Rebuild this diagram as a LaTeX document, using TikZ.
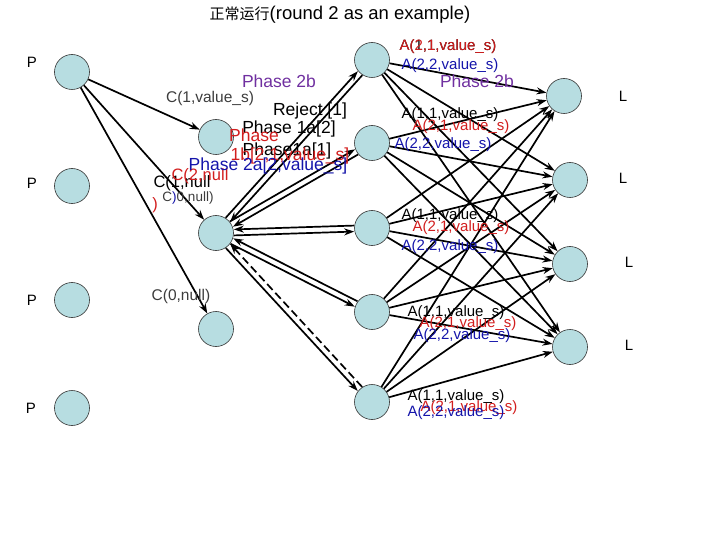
\documentclass[tikz,border=0pt]{standalone}
\usepackage{fontspec}
\setmainfont{Liberation Sans}
\newfontfamily\cjk{Noto Sans CJK SC}
\usetikzlibrary{arrows.meta}
\definecolor{nodefill}{RGB}{183,221,225}
\definecolor{myred}{RGB}{210,30,30}
\definecolor{myblue}{RGB}{20,20,170}
\definecolor{mypurple}{RGB}{112,48,160}
\definecolor{mygray}{RGB}{60,60,60}
\begin{document}
\begin{tikzpicture}[x=1pt,y=-1pt,
  proc/.style={circle, draw=black!80, line width=0.6pt, fill=nodefill, minimum size=35pt, inner sep=0pt},
  arr/.style={-{Stealth[length=10pt,width=7pt]}, line width=1.7pt},
  small/.style={font=\fontsize{15}{17}\selectfont, inner sep=0pt},
  big/.style={font=\fontsize{17.5}{20}\selectfont, inner sep=0pt},
  side/.style={font=\fontsize{15}{17}\selectfont, inner sep=0pt},
  clab/.style={font=\fontsize{15.5}{17}\selectfont, inner sep=0pt, text=mygray}]
\useasboundingbox (0,0) rectangle (720,540);

% title
\node[font=\fontsize{18.5}{20}\selectfont, inner sep=0pt] (title) at (340,15) {{\cjk\fontsize{15}{16}\selectfont 正常运行}(round 2 as an example)};

% column 1
\node[proc] (c1a) at (72,72) {};
\node[proc] (c1b) at (72,186) {};
\node[proc] (c1c) at (72,300) {};
\node[proc] (c1d) at (72,408) {};
% column 2
\node[proc] (c2a) at (216,137) {};
\node[proc] (c2b) at (216,233) {};
\node[proc] (c2c) at (216,329) {};
% column 3
\node[proc] (c3a) at (372,60) {};
\node[proc] (c3b) at (372,143) {};
\node[proc] (c3c) at (372,228) {};
\node[proc] (c3d) at (372,312) {};
\node[proc] (c3e) at (372,402) {};
% column 4
\node[proc] (c4a) at (564,96) {};
\node[proc] (c4b) at (570,180) {};
\node[proc] (c4c) at (570,264) {};
\node[proc] (c4d) at (570,347) {};

% side labels
\node[side] (p1) at (32,62) {P};
\node[side] (p2) at (32,183) {P};
\node[side] (p3) at (32,300) {P};
\node[side] (p4) at (31,408) {P};
\node[side] (l1) at (623,96) {L};
\node[side] (l2) at (623,178) {L};
\node[side] (l3) at (629,262) {L};
\node[side] (l4) at (629,345) {L};

% column 1 -> column 2
\draw[arr] (c1a) -- (c2a);
\draw[arr] (c1a) -- (c2b);
\draw[arr] (c1a) -- (c2c);

% column 2 <-> column 3
\draw[arr, transform canvas={xshift=-2.2pt,yshift=2pt}] (c2b) -- (c3a);
\draw[arr, transform canvas={xshift=2.2pt,yshift=-2pt}] (c3a) -- (c2b);
\draw[arr, transform canvas={xshift=-1.5pt,yshift=2.6pt}] (c2b) -- (c3b);
\draw[arr, transform canvas={xshift=1.5pt,yshift=-2.6pt}] (c3b) -- (c2b);
\draw[arr, transform canvas={yshift=3pt}] (c3c) -- (c2b);
\draw[arr, transform canvas={yshift=-3pt}] (c2b) -- (c3c);
\draw[arr, transform canvas={xshift=1.3pt,yshift=2.7pt}] (c3d) -- (c2b);
\draw[arr, transform canvas={xshift=-1.3pt,yshift=-2.7pt}] (c2b) -- (c3d);
\draw[arr, dash pattern=on 8pt off 4pt, transform canvas={xshift=2.2pt,yshift=2pt}] (c3e) -- (c2b);
\draw[arr, transform canvas={xshift=-2.2pt,yshift=-2pt}] (c2b) -- (c3e);

% column 3 -> column 4
\foreach \s in {c3a,c3b,c3c,c3d,c3e}{
  \foreach \t in {c4a,c4b,c4c,c4d}{
    \draw[arr] (\s) -- (\t);
  }
}

% labels column 1 -> 2
\node[clab] (lc1v) at (210,98) {C(1,value\_s)};
\node[clab] (lc0n) at (181,296) {C(0,null)};
\node[font=\fontsize{16.5}{18}\selectfont, inner sep=0pt] (lc1n) at (182,183) {C(1,null};
\node[font=\fontsize{16.5}{18}\selectfont, inner sep=0pt, text=myred] (lc2n) at (200,176) {C(2,null};
\node[font=\fontsize{16.5}{18}\selectfont, inner sep=0pt, text=myred] (lrp) at (155,205) {)};
\node[font=\fontsize{13.5}{15}\selectfont, inner sep=0pt, text=mygray] (lc0b) at (188,198) {C{\color{myblue})}0,null)};

% labels column 2 -> 3
\node[big, text=mypurple] (ph2b) at (279,81) {Phase 2b};
\node[big] (rej) at (310,111) {Reject [1]};
\node[big] (ph1a2) at (289,129) {Phase 1a[2]};
\node[big] (ph1a1) at (287,151) {Phase1a[1]};
\node[big, text=myred] (ph1b) at (254,135) {Phase};
\node[big, text=myred] (ph1bb) at (290,156) {1b[2,1,value\_s]};
\node[big, text=myblue] (ph2a) at (268,166) {Phase 2a[2,value\_s]};

% labels column 3 -> 4
\node[small] (a1k) at (448,47) {A(1,1,value\_s)};
\node[small, text=myred] (a1r) at (448,47) {A(2,1,value\_s)};
\node[small, text=myblue] (a1b) at (450,66) {A(2,2,value\_s)};
\node[big, text=mypurple] (ph2br) at (477,81) {Phase 2b};

\node[small] (a2k) at (450,115) {A(1,1,value\_s)};
\node[small, text=myred] (a2r) at (461,127) {A(2,1,value\_s)};
\node[small, text=myblue] (a2b) at (443,145) {A(2,2,value\_s)};

\node[small] (a3k) at (450,216) {A(1,1,value\_s)};
\node[small, text=myred] (a3r) at (461,228) {A(2,1,value\_s)};
\node[small, text=myblue] (a3b) at (450,247) {A(2,2,value\_s)};

\node[small] (a4k) at (456,313) {A(1,1,value\_s)};
\node[small, text=myred] (a4r) at (468,324) {A(2,1,value\_s)};
\node[small, text=myblue] (a4b) at (462,336) {A(2,2,value\_s)};

\node[small] (a5k) at (456,397) {A(1,1,value\_s)};
\node[small, text=myred] (a5r) at (469,408) {A(2,1,value\_s)};
\node[small, text=myblue] (a5b) at (456,413) {A(2,2,value\_s)};
\end{tikzpicture}
\end{document}
